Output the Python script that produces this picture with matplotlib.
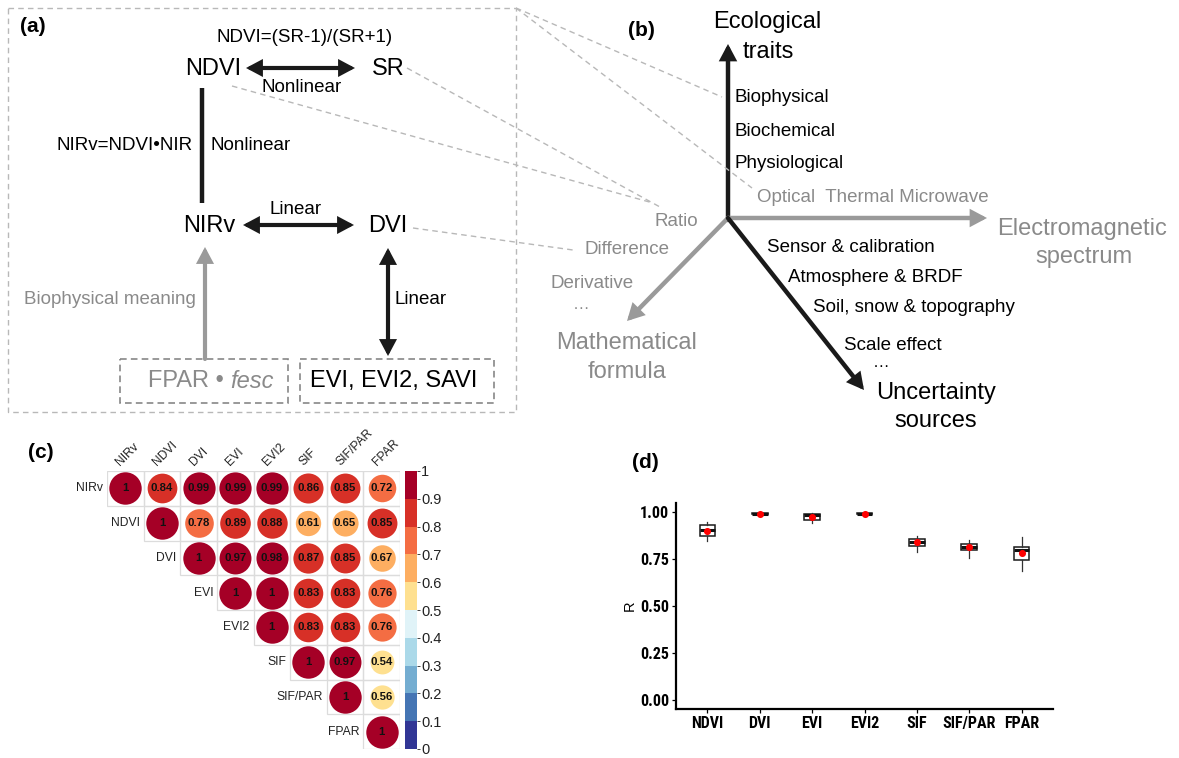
import matplotlib
matplotlib.use("Agg")
import matplotlib.pyplot as plt
import numpy as np
from matplotlib import font_manager
from matplotlib.patches import FancyArrowPatch, Rectangle
from matplotlib.colors import ListedColormap, BoundaryNorm
from matplotlib.cm import ScalarMappable

W, H = 1179, 758

# ---- panel (c): correlation matrix (upper triangle, row by row) ----
corr_vars = ["NIRv", "NDVI", "DVI", "EVI", "EVI2", "SIF", "SIF/PAR", "FPAR"]
corr_upper = [
    [1, 0.84, 0.99, 0.99, 0.99, 0.86, 0.85, 0.72],
    [1, 0.78, 0.89, 0.88, 0.61, 0.65, 0.85],
    [1, 0.97, 0.98, 0.87, 0.85, 0.67],
    [1, 1, 0.83, 0.83, 0.76],
    [1, 0.83, 0.83, 0.76],
    [1, 0.97, 0.54],
    [1, 0.56],
    [1],
]
cbar_colors = ["#313695", "#4575b4", "#74add1", "#abd9e9", "#e0f3f8",
               "#fee090", "#fdae61", "#f46d43", "#d73027", "#a50026"]
cbar_ticks = [0, 0.1, 0.2, 0.3, 0.4, 0.5, 0.6, 0.7, 0.8, 0.9, 1]
cbar_ticklabels = ["0", "0.1", "0.2", "0.3", "0.4", "0.5", "0.6", "0.7", "0.8", "0.9", "1"]

# ---- panel (d): boxplots of R ----
box_labels = ["NDVI", "DVI", "EVI", "EVI2", "SIF", "SIF/PAR", "FPAR"]
box_q1 = [0.873, 0.989, 0.961, 0.989, 0.823, 0.798, 0.746]
box_med = [0.905, 0.993, 0.984, 0.993, 0.843, 0.816, 0.798]
box_q3 = [0.932, 0.997, 0.991, 0.997, 0.859, 0.832, 0.816]
box_lo = [0.846, 0.986, 0.943, 0.987, 0.789, 0.755, 0.686]
box_hi = [0.946, 0.999, 0.995, 0.999, 0.875, 0.852, 0.866]
box_mean = [0.900, 0.993, 0.975, 0.993, 0.841, 0.814, 0.782]
r_ticks = [0.0, 0.25, 0.5, 0.75, 1.0]

names = {f.name for f in font_manager.fontManager.ttflist}
narrow = "Liberation Sans"
for cand in ["Liberation Sans Narrow", "Roboto Condensed", "Open Sans Condensed", "DejaVu Sans Condensed"]:
    if cand in names:
        narrow = cand
        break
plt.rcParams["font.family"] = ["Liberation Sans", "DejaVu Sans"]

GRAY_T = "#8a8a8a"
GRAY_A = "#9a9a9a"
DASH = "#b8b8b8"

fig = plt.figure(figsize=(W / 100, H / 100), dpi=100)
ax0 = fig.add_axes([0, 0, 1, 1])
ax0.set_xlim(0, W)
ax0.set_ylim(H, 0)
ax0.axis("off")


def arrow(p0, p1, color, style="-|>", lw=3):
    ax0.add_patch(FancyArrowPatch(p0, p1, arrowstyle=f"{style},head_length=0.75,head_width=0.4",
                                  mutation_scale=10, lw=lw, color=color,
                                  shrinkA=0, shrinkB=0, joinstyle="miter"))


def dline(p0, p1):
    ax0.plot([p0[0], p1[0]], [p0[1], p1[1]], color=DASH, lw=1, ls=(0, (4, 3)))


# ---- panel (a) ----
ax0.add_patch(Rectangle((8, 8), 508, 404, fill=False, ec=DASH, lw=1, ls=(0, (4, 3))))
ax0.add_patch(Rectangle((120, 359), 168, 44, fill=False, ec="#888888", lw=1.2, ls=(0, (4, 2.5))))
ax0.add_patch(Rectangle((300, 359), 194, 44, fill=False, ec="#888888", lw=1.2, ls=(0, (4, 2.5))))

ax0.text(20, 27, "(a)", fontsize=15, fontweight="bold", ha="left", va="center")
ax0.text(305, 38, "NDVI=(SR-1)/(SR+1)", fontsize=13.5, ha="center", va="center")
ax0.text(213, 69, "NDVI", fontsize=17, ha="center", va="center")
ax0.text(388, 69, "SR", fontsize=17, ha="center", va="center")
arrow((246, 68), (355, 68), "#1a1a1a", "<|-|>")
ax0.text(302, 88, "Nonlinear", fontsize=13.5, ha="center", va="center")
ax0.plot([202, 202], [88, 203], color="#1a1a1a", lw=3.2, solid_capstyle="butt")
ax0.text(193, 146, "NIRv=NDVI•NIR", fontsize=13.5, ha="right", va="center")
ax0.text(211, 146, "Nonlinear", fontsize=13.5, ha="left", va="center")
ax0.text(296, 210, "Linear", fontsize=13.5, ha="center", va="center")
ax0.text(209, 226, "NIRv", fontsize=17, ha="center", va="center")
ax0.text(388, 226, "DVI", fontsize=17, ha="center", va="center")
arrow((243, 225), (354, 225), "#1a1a1a", "<|-|>")
arrow((205, 359), (205, 247), GRAY_A, "-|>")
ax0.text(196, 300, "Biophysical meaning", fontsize=13.5, ha="right", va="center", color=GRAY_T)
arrow((388, 248), (388, 356), "#1a1a1a", "<|-|>")
ax0.text(395, 299, "Linear", fontsize=13.5, ha="left", va="center")
ax0.text(224, 381, "FPAR •", fontsize=17, ha="right", va="center", color=GRAY_T)
ax0.text(230, 381, "fesc", fontsize=17, ha="left", va="center", color=GRAY_T, style="italic")
ax0.text(394, 381, "EVI, EVI2, SAVI", fontsize=17, ha="center", va="center")

# connecting dashed lines
dline((516, 8), (722, 97))
dline((516, 8), (752, 188))
dline((407, 68), (660, 207))
dline((232, 86), (653, 203))
dline((413, 228), (573, 250))

# ---- panel (b) ----
ax0.text(628, 30, "(b)", fontsize=15, fontweight="bold", ha="left", va="center")
ox, oy = 728, 218
arrow((ox, oy + 2), (ox, 44), "#1a1a1a", "-|>", lw=3.2)
arrow((ox, oy), (987, oy), GRAY_A, "-|>", lw=3.2)
arrow((ox, oy), (627, 321), GRAY_A, "-|>", lw=3.2)
arrow((ox, oy), (864, 390), "#1a1a1a", "-|>", lw=3.2)

ax0.text(767, 22, "Ecological", fontsize=17, ha="center", va="center")
ax0.text(768, 52, "traits", fontsize=17, ha="center", va="center")
ax0.text(735, 97, "Biophysical", fontsize=13.5, ha="left", va="center")
ax0.text(735, 131, "Biochemical", fontsize=13.5, ha="left", va="center")
ax0.text(735, 164, "Physiological", fontsize=13.5, ha="left", va="center")
ax0.text(757, 198, "Optical  Thermal Microwave", fontsize=13.5, ha="left", va="center", color=GRAY_T)
ax0.text(1082, 229, "Electromagnetic", fontsize=17, ha="center", va="center", color=GRAY_T)
ax0.text(1084, 257, "spectrum", fontsize=17, ha="center", va="center", color=GRAY_T)
ax0.text(698, 222, "Ratio", fontsize=13.5, ha="right", va="center", color=GRAY_T)
ax0.text(585, 249, "Difference", fontsize=13.5, ha="left", va="center", color=GRAY_T)
ax0.text(550, 283, "Derivative", fontsize=13.5, ha="left", va="center", color=GRAY_T)
ax0.text(581, 309, "…", fontsize=12, ha="center", va="baseline", color=GRAY_T)
ax0.text(627, 343, "Mathematical", fontsize=17, ha="center", va="center", color=GRAY_T)
ax0.text(627, 372, "formula", fontsize=17, ha="center", va="center", color=GRAY_T)
ax0.text(767, 248, "Sensor & calibration", fontsize=13.5, ha="left", va="center")
ax0.text(788, 278, "Atmosphere & BRDF", fontsize=13.5, ha="left", va="center")
ax0.text(813, 308, "Soil, snow & topography", fontsize=13.5, ha="left", va="center")
ax0.text(844, 345, "Scale effect", fontsize=13.5, ha="left", va="center")
ax0.text(881, 367, "…", fontsize=12, ha="center", va="baseline")
ax0.text(936, 393, "Uncertainty", fontsize=17, ha="center", va="center")
ax0.text(936, 421, "sources", fontsize=17, ha="center", va="center")

# ---- panel (c) ----
ax0.text(28, 452, "(c)", fontsize=15, fontweight="bold", ha="left", va="center")
c_top, c_bot = 471, 749
ax_c = fig.add_axes([107 / W, 1 - c_bot / H, 293 / W, (c_bot - c_top) / H])
ax_c.set_xlim(-0.5, 7.5)
ax_c.set_ylim(7.5, -0.5)
ax_c.axis("off")
cmap = ListedColormap(cbar_colors)
norm = BoundaryNorm(np.linspace(0, 1, 11), cmap.N)
for i, row in enumerate(corr_upper):
    for k, v in enumerate(row):
        j = i + k
        ax_c.add_patch(Rectangle((j - 0.5, i - 0.5), 1, 1, fill=False, ec="#dcdcdc", lw=0.9))
        ax_c.scatter(j, i, s=545 * abs(v), color=cmap(norm(min(v, 0.999))), zorder=2, lw=0)
        lab = "1" if v == 1 else f"{v:.2f}"
        ax_c.text(j, i, lab, fontsize=8.2, fontweight="bold", ha="center", va="center",
                  color="#111111", zorder=3)
for i, name in enumerate(corr_vars):
    ax_c.text(i - 0.6, i, name, fontsize=8.7, ha="right", va="center", color="#222222")
    ax_c.text(i - 0.08, -0.58, name, fontsize=8.7, ha="left", va="bottom", rotation=45,
              rotation_mode="anchor", color="#222222")

cax = fig.add_axes([405 / W, 1 - c_bot / H, 12 / W, (c_bot - c_top) / H])
cb = fig.colorbar(ScalarMappable(norm=norm, cmap=cmap), cax=cax, ticks=cbar_ticks)
cb.ax.set_yticklabels(cbar_ticklabels)
cb.ax.tick_params(labelsize=10.5, length=2.5, width=0.6, colors="#222222", pad=0.5)
cb.outline.set_visible(False)

# ---- panel (d) ----
ax0.text(632, 462, "(d)", fontsize=15, fontweight="bold", ha="left", va="center")
ax_d = fig.add_axes([676 / W, 1 - 709 / H, 377 / W, 206 / H])
pos = np.arange(1, len(box_labels) + 1)
stats = [dict(q1=a, med=b, q3=c, whislo=d, whishi=e, fliers=[])
         for a, b, c, d, e in zip(box_q1, box_med, box_q3, box_lo, box_hi)]
ax_d.bxp(stats, positions=pos, widths=0.3, showfliers=False, showcaps=False, patch_artist=True,
         boxprops=dict(facecolor="white", edgecolor="#1a1a1a", lw=1.1),
         medianprops=dict(color="#111111", lw=2.2),
         whiskerprops=dict(color="#333333", lw=0.9))
ax_d.scatter(pos, box_mean, color="red", s=26, zorder=4, lw=0)
ax_d.set_xlim(0.4, 7.6)
ax_d.set_ylim(-0.05, 1.05)
ax_d.set_yticks(r_ticks)
ax_d.set_yticklabels([f"{t:.2f}" for t in r_ticks])
ax_d.set_xticks(pos)
ax_d.set_xticklabels(box_labels)
for lab in ax_d.get_xticklabels() + ax_d.get_yticklabels():
    lab.set_fontfamily(narrow)
    lab.set_fontweight("bold")
    lab.set_fontsize(11.5 if narrow != "Liberation Sans" else 10)
ax_d.set_ylabel("R", fontsize=10.5, labelpad=2)
for s in ["top", "right"]:
    ax_d.spines[s].set_visible(False)
for s in ["left", "bottom"]:
    ax_d.spines[s].set_linewidth(1.6)
ax_d.tick_params(length=3, width=0.9, pad=2)

fig.savefig("out.png", dpi=100)
